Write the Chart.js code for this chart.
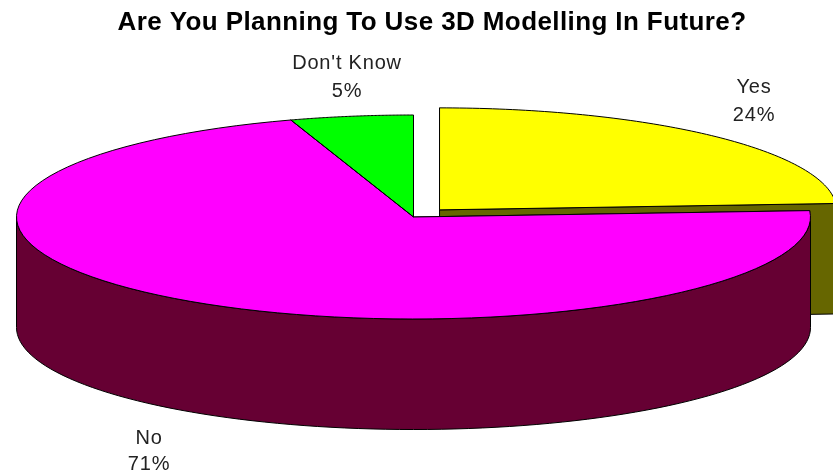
<!DOCTYPE html>
<html>
<head>
<meta charset="utf-8">
<title>3D Modelling</title>
<script src="https://cdn.jsdelivr.net/npm/chart.js@4/dist/chart.umd.min.js"></script>
<style>
    html, body { margin: 0; padding: 0; background: #fff; }
    #chart { display: block; }
</style>
</head>
<body>
<canvas id="chart" width="833" height="474"></canvas>
<script>
const chartTitle = 'Are You Planning To Use 3D Modelling In Future?';
const categories = ['Yes', 'No', "Don't Know"];
const shares = [24, 71, 5];
const faceColors = ['#ffff00', '#ff00ff', '#00ff00'];
const wallColors = ['#666600', '#660033', '#006600'];

// how the flat Chart.js pie is laid down into a tilted disc
const disc = { cx: 413.5, cy: 217, rx: 397, ry: 102, depth: 110.5 };
const labelSpots = [[754, 92.5, 120.5], [149, 444, 470], [347, 69, 97]];

// map a point of a pie arc to the screen, `down` pixels below the top face
function project(arc, angle, radius, down) {
    const { startAngle, endAngle, outerRadius } = arc;
    const mid = (startAngle + endAngle) / 2;
    const push = (arc.options.offset || 0) / 4;
    const px = Math.cos(mid) * push + Math.cos(angle) * radius;
    const py = Math.sin(mid) * push + Math.sin(angle) * radius;
    return [disc.cx + px * disc.rx / outerRadius, disc.cy + py * disc.ry / outerRadius + down];
}

function traceRim(ctx, arc, from, to, down, reverse) {
    const steps = 90;
    for (let i = 0; i <= steps; i++) {
        const t = reverse ? 1 - i / steps : i / steps;
        const p = project(arc, from + (to - from) * t, arc.outerRadius, down);
        ctx.lineTo(p[0], p[1]);
    }
}

function drawCutFace(ctx, arc, angle) {
    const apex = project(arc, angle, 0, 0);
    const rim = project(arc, angle, arc.outerRadius, 0);
    ctx.beginPath();
    ctx.moveTo(apex[0], apex[1]);
    ctx.lineTo(rim[0], rim[1]);
    ctx.lineTo(rim[0], rim[1] + disc.depth);
    ctx.lineTo(apex[0], apex[1] + disc.depth);
    ctx.closePath();
    ctx.fill();
    ctx.stroke();
}

function drawWall(ctx, arc, color) {
    ctx.fillStyle = color;
    ctx.strokeStyle = '#000';
    ctx.lineWidth = 1;
    drawCutFace(ctx, arc, arc.startAngle);
    drawCutFace(ctx, arc, arc.endAngle);
    // only the front half of the outer wall can be seen
    const from = Math.max(arc.startAngle, 0);
    const to = Math.min(arc.endAngle, Math.PI);
    if (to > from) {
        ctx.beginPath();
        traceRim(ctx, arc, from, to, 0, false);
        traceRim(ctx, arc, from, to, disc.depth, true);
        ctx.closePath();
        ctx.fill();
        ctx.stroke();
    }
}

function outlineFace(ctx, arc) {
    const apex = project(arc, 0, 0, 0);
    ctx.beginPath();
    ctx.moveTo(apex[0], apex[1]);
    traceRim(ctx, arc, arc.startAngle, arc.endAngle, 0, false);
    ctx.closePath();
    ctx.strokeStyle = '#000';
    ctx.lineWidth = 1;
    ctx.stroke();
}

const tiltedPie = {
    id: 'tiltedPie',
    beforeDatasetsDraw(chart) {
        const ctx = chart.ctx;
        const arcs = chart.getDatasetMeta(0).data;
        // back walls first, front wall last
        const order = arcs.map((arc, i) => i).sort((a, b) =>
            Math.sin((arcs[a].startAngle + arcs[a].endAngle) / 2) -
            Math.sin((arcs[b].startAngle + arcs[b].endAngle) / 2));
        order.forEach(i => drawWall(ctx, arcs[i], wallColors[i]));

        const first = arcs[0];
        const sx = disc.rx / first.outerRadius;
        const sy = disc.ry / first.outerRadius;
        ctx.save();
        ctx.translate(disc.cx, disc.cy);
        ctx.scale(sx, sy);
        ctx.translate(-first.x, -first.y);
    },
    afterDatasetsDraw(chart) {
        const ctx = chart.ctx;
        ctx.restore();
        chart.getDatasetMeta(0).data.forEach(arc => outlineFace(ctx, arc));
    },
    afterDraw(chart) {
        const ctx = chart.ctx;
        ctx.save();
        ctx.textAlign = 'center';
        ctx.textBaseline = 'alphabetic';
        ctx.fillStyle = '#000';
        ctx.font = 'bold 26px "Liberation Sans"';
        ctx.letterSpacing = '0.4px';
        ctx.fillText(chartTitle, 432, 30);
        ctx.fillStyle = '#222';
        ctx.font = '20px "Liberation Sans"';
        ctx.letterSpacing = '0.8px';
        categories.forEach((name, i) => {
            const spot = labelSpots[i];
            ctx.fillText(name, spot[0], spot[1]);
            ctx.fillText(shares[i] + '%', spot[0], spot[2]);
        });
        ctx.restore();
    }
};

new Chart(document.getElementById('chart'), {
    type: 'pie',
    data: {
        labels: categories,
        datasets: [{
            data: shares,
            backgroundColor: faceColors,
            borderWidth: 0,
            offset: [69, 0, 0]
        }]
    },
    options: {
        responsive: false,
        animation: false,
        radius: 180,
        plugins: { legend: { display: false }, title: { display: false }, tooltip: { enabled: false } }
    },
    plugins: [tiltedPie]
});
</script>
</body>
</html>
